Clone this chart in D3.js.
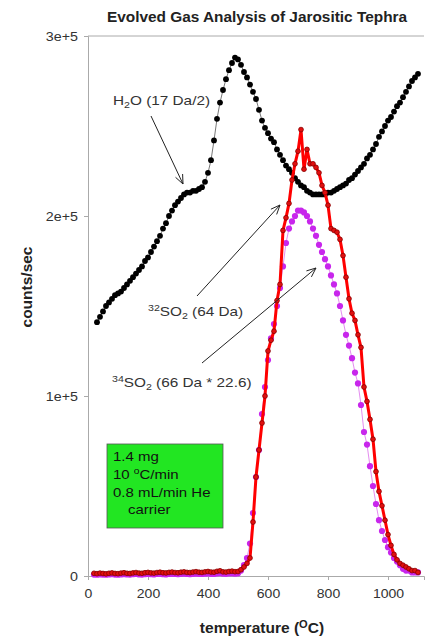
<!DOCTYPE html>
<html>
<head>
<meta charset="utf-8">
<title>Evolved Gas Analysis of Jarositic Tephra</title>
<script src="https://cdn.jsdelivr.net/npm/d3@7"></script>
<style>
  body { margin: 0; background: #fff; }
  svg { display: block; font-family: "Liberation Sans", Arial, sans-serif; }
</style>
</head>
<body>
<script>

// temperature (C), one reading every 10 degrees
var tempC = [20, 30, 40, 50, 60, 70, 80, 90, 100, 110, 120, 130, 140, 150, 160, 170, 180, 190, 200,
    210, 220, 230, 240, 250, 260, 270, 280, 290, 300, 310, 320, 330, 340, 350, 360, 370, 380, 390, 400,
    410, 420, 430, 440, 450, 460, 470, 480, 490, 500, 510, 520, 530, 540, 550, 560, 570, 580, 590, 600,
    610, 620, 630, 640, 650, 660, 670, 680, 690, 700, 710, 720, 730, 740, 750, 760, 770, 780, 790, 800,
    810, 820, 830, 840, 850, 860, 870, 880, 890, 900, 910, 920, 930, 940, 950, 960, 970, 980, 990, 1000,
    1010, 1020, 1030, 1040, 1050, 1060, 1070, 1080, 1090, 1100];

// H2O (17 Da / 2), starts at 30 C
var h2o = [141000, 144000, 147000, 150000, 152000, 154000, 156000, 157000, 158000, 160000,
    162000, 164000, 166000, 168000, 170000, 172000, 175000, 177000, 180000, 183000,
    186000, 189000, 193000, 196000, 200000, 203000, 206000, 208000, 210000, 212000,
    213000, 213000, 214000, 214000, 215000, 216000, 219000, 224000, 231000, 242000,
    254000, 263000, 270000, 276000, 281000, 285000, 288000, 287000, 284000, 280000,
    277000, 273000, 269000, 265000, 259000, 253000, 249000, 246000, 243000, 241000,
    237000, 234000, 231000, 228000, 226000, 224000, 221000, 219000, 217000, 216000,
    214000, 213000, 212000, 212000, 212000, 212000, 212000, 213000, 213000, 214000,
    215000, 216000, 217000, 218000, 220000, 221000, 223000, 225000, 227000, 229000,
    232000, 234000, 237000, 240000, 244000, 247000, 250000, 253000, 255000, 258000,
    261000, 263000, 266000, 269000, 272000, 275000, 277000, 279000];

// 32SO2 (64 Da)
var so2_32 = [1500, 1300, 1600, 1400, 1200, 1500, 1700, 1400, 1300, 1600, 1800, 1500,
    1400, 1700, 1900, 1600, 1500, 1800, 2000, 1700, 1600, 1900, 2100, 1800,
    1700, 2000, 2200, 1900, 1800, 2100, 2300, 2000, 1900, 2200, 2400, 2100,
    2000, 2300, 2500, 2200, 2100, 2600, 2900, 2300, 2200, 2500, 2700, 2400,
    2500, 3500, 5000, 7000, 10000, 30000, 55000, 70000, 85000, 100000, 125000,
    131000, 136000, 153000, 162000, 192000, 199000, 207000, 220000, 229000, 236000,
    248000, 226000, 237000, 229000, 229000, 227000, 224000, 217000, 213000, 206000,
    193000, 192000, 191000, 187000, 178000, 166000, 154000, 146000, 142000, 134000,
    127000, 105000, 97000, 87000, 76000, 58000, 47000, 39000, 31000, 23000,
    17000, 12000, 9000, 7000, 6000, 5000, 4000, 3000, 3000, 2000];

// 34SO2 (66 Da * 22.6)
var so2_34 = [800, 700, 900, 800, 700, 900, 1000, 800, 700, 900, 1000, 900,
    800, 1000, 1100, 900, 800, 1000, 1100, 1000, 900, 1100, 1200, 1000,
    900, 1100, 1200, 1100, 1000, 1200, 1300, 1100, 1000, 1200, 1300, 1200,
    1100, 1300, 1400, 1200, 1100, 1400, 1600, 1300, 1200, 1400, 1500, 1300,
    1500, 3000, 6000, 10000, 18000, 35000, 55000, 70000, 90000, 105000, 120000,
    132000, 140000, 150000, 160000, 172000, 185000, 193000, 197000, 200000, 203000,
    203000, 202000, 200000, 197000, 193000, 189000, 184000, 180000, 176000, 172000,
    167000, 162000, 157000, 150000, 142000, 134000, 128000, 121000, 113000, 107000,
    95000, 80000, 73000, 61000, 50000, 40000, 31000, 25000, 20000, 16000,
    13000, 10000, 8000, 6000, 4000, 3000, 3000, 2000, 2000, 2000];

var xTicks = [0, 200, 400, 600, 800, 1000];
var yTicks = [0, 100000, 200000, 300000];
var yTickLabels = ["0", "1e+5", "2e+5", "3e+5"];
var boxLines = ["1.4 mg", "10 \u00B0C/min", "0.8 mL/min He", "carrier"];

var W = 427, H = 636;
var margin = {top: 36, right: 3, bottom: 60, left: 88};

var svg = d3.select("body").append("svg")
    .attr("width", W)
    .attr("height", H);

var x = d3.scaleLinear()
    .domain([0, 1120])
    .range([margin.left, W - margin.right]);

var y = d3.scaleLinear()
    .domain([0, 300000])
    .range([H - margin.bottom, margin.top]);

// the original picture is a little stretched sideways, so text gets a horizontal scale
function place(px, py, sx) {
    return "translate(" + px + "," + py + ") scale(" + sx + ",1)";
}

// title
svg.append("text")
    .attr("transform", place(257, 22, 1.1))
    .attr("text-anchor", "middle")
    .attr("font-weight", "bold")
    .attr("font-size", 14)
    .attr("fill", "#222")
    .text("Evolved Gas Analysis of Jarositic Tephra");

// top frame line
svg.append("line")
    .attr("x1", x(0)).attr("x2", x(1120))
    .attr("y1", y(300000)).attr("y2", y(300000))
    .attr("stroke", "#aaa");

// axes
var yAxis = svg.append("g")
    .attr("transform", "translate(" + x(0) + ",0)")
    .call(d3.axisLeft(y).tickValues(yTicks).tickSize(4).tickPadding(0)
        .tickFormat(function(d, i) { return yTickLabels[i]; }));

var xAxis = svg.append("g")
    .attr("transform", "translate(0," + y(0) + ")")
    .call(d3.axisBottom(x).tickValues(xTicks).tickSize(4).tickPadding(9)
        .tickFormat(d3.format("d")));

[xAxis, yAxis].forEach(function(g) {
    g.select(".domain").attr("stroke", "#aaa");
    g.selectAll(".tick line").attr("stroke", "#aaa");
    g.selectAll(".tick text")
        .attr("font-size", 13)
        .attr("fill", "#333")
        .attr("font-family", "Liberation Sans, Arial, sans-serif");
});
yAxis.selectAll(".tick text")
    .attr("x", 0)
    .attr("transform", place(-10, 0, 1.1));
xAxis.selectAll(".tick text")
    .attr("transform", "scale(1.08,1)");

// axis titles
svg.append("text")
    .attr("transform", "translate(32,287) rotate(-90)")
    .attr("text-anchor", "middle")
    .attr("font-weight", "bold")
    .attr("font-size", 15.5)
    .attr("fill", "#222")
    .text("counts/sec");

var xl = svg.append("text")
    .attr("transform", place(262, 633, 1.11))
    .attr("text-anchor", "middle")
    .attr("font-weight", "bold")
    .attr("font-size", 14)
    .attr("fill", "#222");
xl.append("tspan").text("temperature (");
xl.append("tspan").attr("dy", -5).attr("font-size", 10).text("O");
xl.append("tspan").attr("dy", 5).text("C)");

// series
var line = d3.line()
    .x(function(d) { return x(d[0]); })
    .y(function(d) { return y(d[1]); });

var h2oData = d3.zip(tempC.slice(1), h2o);
var s32Data = d3.zip(tempC, so2_32);
var s34Data = d3.zip(tempC, so2_34);

svg.append("path")
    .datum(h2oData)
    .attr("d", line)
    .attr("fill", "none")
    .attr("stroke", "#555")
    .attr("stroke-width", 0.8);

svg.selectAll(".h2o")
    .data(h2oData)
    .enter().append("circle")
    .attr("class", "h2o")
    .attr("cx", function(d) { return x(d[0]); })
    .attr("cy", function(d) { return y(d[1]); })
    .attr("r", 2.9)
    .attr("fill", "#000");

svg.append("path")
    .datum(s34Data)
    .attr("d", line)
    .attr("fill", "none")
    .attr("stroke", "#e48cf0")
    .attr("stroke-width", 1);

svg.selectAll(".s34")
    .data(s34Data)
    .enter().append("circle")
    .attr("class", "s34")
    .attr("cx", function(d) { return x(d[0]); })
    .attr("cy", function(d) { return y(d[1]); })
    .attr("r", 3.1)
    .attr("fill", "#c826ec");

svg.append("path")
    .datum(s32Data)
    .attr("d", line)
    .attr("fill", "none")
    .attr("stroke", "#ff0000")
    .attr("stroke-width", 3);

svg.selectAll(".s32")
    .data(s32Data)
    .enter().append("circle")
    .attr("class", "s32")
    .attr("cx", function(d) { return x(d[0]); })
    .attr("cy", function(d) { return y(d[1]); })
    .attr("r", 2.4)
    .attr("fill", "#e01010")
    .attr("stroke", "#8a0000")
    .attr("stroke-width", 0.8);

// annotation arrows
function arrow(x1, y1, x2, y2) {
    var a = Math.atan2(y2 - y1, x2 - x1), L = 10, s = 0.4;
    svg.append("line")
        .attr("x1", x1).attr("y1", y1).attr("x2", x2).attr("y2", y2)
        .attr("stroke", "#222").attr("stroke-width", 1);
    svg.append("path")
        .attr("d", "M" + (x2 - L * Math.cos(a - s)) + "," + (y2 - L * Math.sin(a - s)) +
            "L" + x2 + "," + y2 +
            "L" + (x2 - L * Math.cos(a + s)) + "," + (y2 - L * Math.sin(a + s)))
        .attr("fill", "none")
        .attr("stroke", "#222").attr("stroke-width", 1);
}

arrow(151, 116, 183, 184);
arrow(197, 296, 280, 205);
arrow(202, 363, 316, 268);

function label(px, py, parts) {
    var t = svg.append("text")
        .attr("transform", place(px, py, 1.18))
        .attr("font-size", 13)
        .attr("fill", "#333");
    parts.forEach(function(p) {
        t.append("tspan")
            .attr("dy", p.dy || 0)
            .attr("font-size", p.size || 13)
            .text(p.t);
    });
}

label(113, 105, [{t: "H"}, {t: "2", size: 9, dy: 3}, {t: "O (17 Da/2)", dy: -3}]);
label(148, 316, [{t: "32", size: 9, dy: -5}, {t: "SO", dy: 5}, {t: "2", size: 9, dy: 3}, {t: " (64 Da)", dy: -3}]);
label(112, 387, [{t: "34", size: 9, dy: -5}, {t: "SO", dy: 5}, {t: "2", size: 9, dy: 3}, {t: " (66 Da * 22.6)", dy: -3}]);

// conditions box
svg.append("rect")
    .attr("x", 107).attr("y", 444)
    .attr("width", 116).attr("height", 84)
    .attr("fill", "#22e622")
    .attr("stroke", "#555")
    .attr("stroke-width", 0.8);

boxLines.forEach(function(s, i) {
    var t = svg.append("text")
        .attr("transform", place(i == 3 ? 128 : 113, 461 + i * 17.8, 1.2))
        .attr("font-size", 12.5)
        .attr("fill", "#111");
    if (i == 1) {
        t.append("tspan").text("10 ");
        t.append("tspan").attr("dy", -5).attr("font-size", 8.5).text("o");
        t.append("tspan").attr("dy", 5).text("C/min");
    } else {
        t.text(s);
    }
});

</script>
</body>
</html>
